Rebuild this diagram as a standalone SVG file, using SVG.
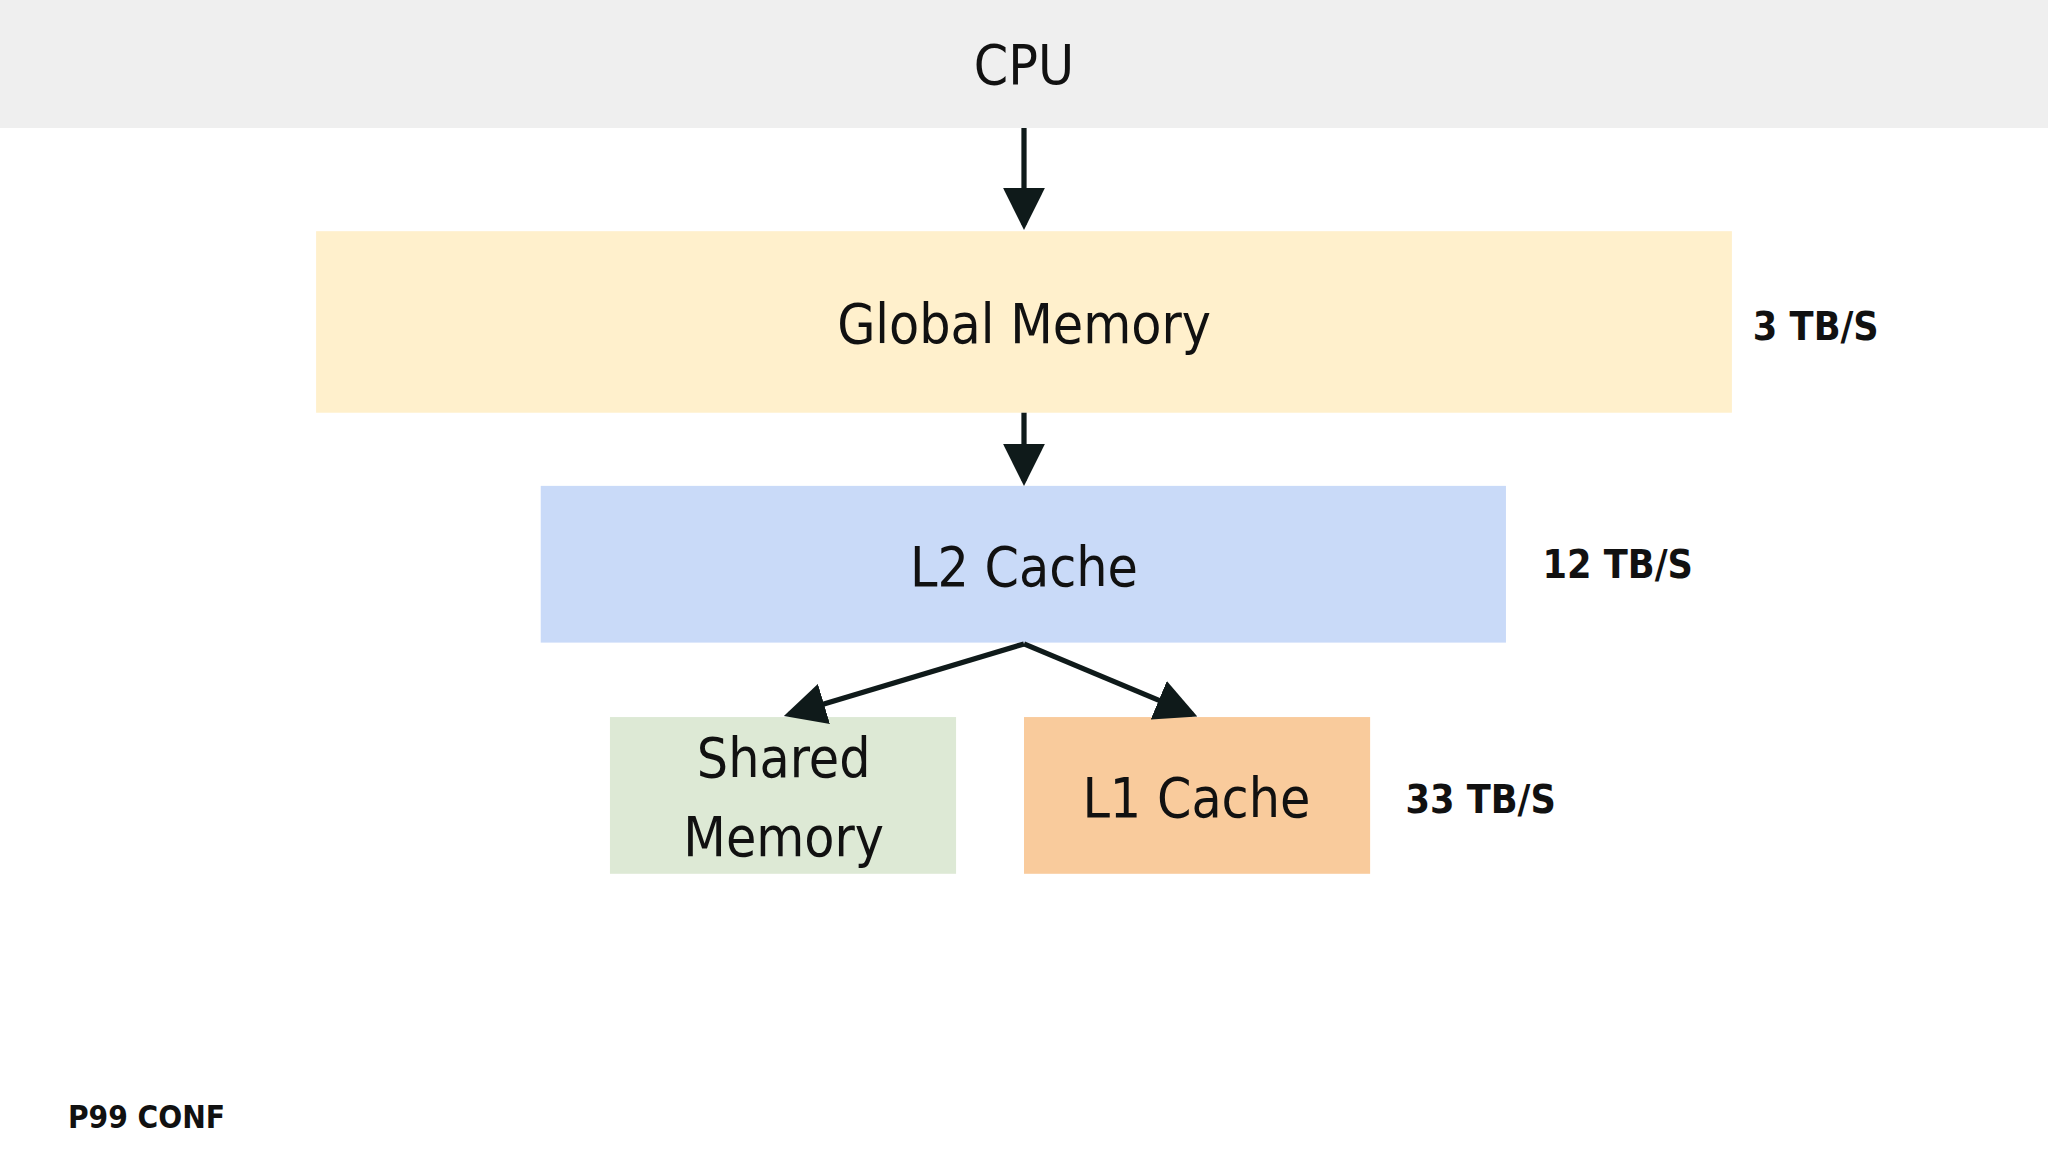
<svg xmlns="http://www.w3.org/2000/svg" width="2048" height="1152" viewBox="0 0 2048 1152">
<style>
.t{font-family:"DejaVu Sans Condensed","Liberation Sans",sans-serif;fill:#111;text-anchor:middle;dominant-baseline:central}
.n{font-size:42px}
.r{font-size:30px;font-weight:bold;text-anchor:start}
.c{stroke:#0f1a1a;stroke-width:4;fill:none}
</style>
<defs><marker id="a" markerWidth="8" markerHeight="8" refX="7" refY="4" orient="auto" markerUnits="strokeWidth" viewBox="0 0 8 8"><path d="M0,0 L8,4 L0,8 z" fill="#0f1a1a"/></marker></defs>
<rect width="2048" height="1152" fill="#fff"/>
<g transform="scale(1.30612)">
<g id="cpu"><rect x="0" y="0" width="1568" height="98" fill="#efefef"/><text class="t n" x="784" y="50">CPU</text></g>
<g id="global"><rect x="242" y="177" width="1084" height="139" fill="#fff0cc"/><text class="t n" x="784" y="248">Global Memory</text><text class="t r" x="1342" y="250">3 TB/S</text></g>
<g id="l2"><rect x="414" y="372" width="739" height="120" fill="#c9daf8"/><text class="t n" x="784" y="434">L2 Cache</text><text class="t r" x="1181" y="432">12 TB/S</text></g>
<g id="shared"><rect x="467" y="549" width="265" height="120" fill="#dde9d5"/><text class="t n" x="600" y="580">Shared</text><text class="t n" x="600" y="641">Memory</text></g>
<g id="l1"><rect x="784" y="549" width="265" height="120" fill="#f9cb9c"/><text class="t n" x="916" y="611">L1 Cache</text><text class="t r" x="1076" y="612">33 TB/S</text></g>
<g id="connectors">
<line class="c" x1="784" y1="98" x2="784" y2="172" marker-end="url(#a)"/>
<line class="c" x1="784" y1="316" x2="784" y2="368" marker-end="url(#a)"/>
<line class="c" x1="784" y1="493" x2="604" y2="547" marker-end="url(#a)"/>
<line class="c" x1="784" y1="493" x2="913" y2="547" marker-end="url(#a)"/>
</g>
<text class="t" x="52" y="855" style="font-size:24px;font-weight:bold;text-anchor:start">P99 CONF</text>
</g>
</svg>
